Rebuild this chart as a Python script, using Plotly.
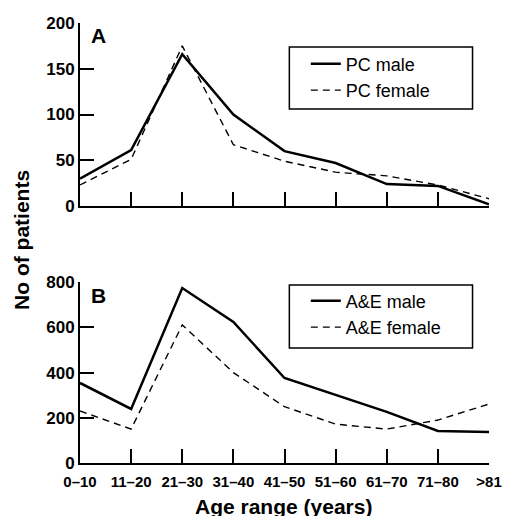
import plotly.graph_objects as go

categories = ["0\u201310", "11\u201320", "21\u201330", "31\u201340", "41\u201350",
              "51\u201360", "61\u201370", "71\u201380", ">81"]
pc_male = [30, 61, 166, 100, 60, 47, 24, 22, 2]
pc_female = [23, 51, 175, 67, 49, 37, 33, 23, 8]
ae_male = [354, 239, 774, 624, 376, 301, 226, 142, 137]
ae_female = [230, 150, 611, 400, 249, 172, 150, 190, 261]
pc_yticks = [0, 50, 100, 150, 200]
ae_yticks = [0, 200, 400, 600, 800]

FONT = "Liberation Sans, Arial, sans-serif"
xs = list(range(len(categories)))

fig = go.Figure()
fig.add_trace(go.Scatter(x=xs, y=pc_male, mode="lines", name="PC male",
                         line=dict(color="black", width=2.5), xaxis="x", yaxis="y", legend="legend"))
fig.add_trace(go.Scatter(x=xs, y=pc_female, mode="lines", name="PC female",
                         line=dict(color="black", width=1.4, dash="7px,5px"), xaxis="x", yaxis="y", legend="legend"))
fig.add_trace(go.Scatter(x=xs, y=ae_male, mode="lines", name="A&E male",
                         line=dict(color="black", width=2.5), xaxis="x2", yaxis="y2", legend="legend2"))
fig.add_trace(go.Scatter(x=xs, y=ae_female, mode="lines", name="A&E female",
                         line=dict(color="black", width=1.4, dash="7px,5px"), xaxis="x2", yaxis="y2", legend="legend2"))

axcommon = dict(showgrid=False, zeroline=False, showline=True, linecolor="black", linewidth=2,
                ticks="inside", ticklen=14, tickwidth=1.5, tickcolor="black")
yfont = dict(family=FONT, size=17, color="black", weight="bold")
xfont = dict(family=FONT, size=15, color="black", weight="bold")

# plot area in px: x 80..502, top panel y 23..206, bottom panel y 282..463
def px_x(p):
    return (p - 80) / 422

def px_y(p):
    return (463 - p) / 440

legend_common = dict(xanchor="left", yanchor="middle", borderwidth=0, bgcolor="rgba(0,0,0,0)",
                     font=dict(family=FONT, size=18, color="black"), tracegroupgap=0,
                     itemwidth=30)

fig.update_layout(
    width=514, height=516,
    margin=dict(l=80, r=12, t=23, b=53),
    paper_bgcolor="white", plot_bgcolor="white",
    xaxis=dict(domain=[0, 1], anchor="y", range=[0, 8], tickvals=xs, showticklabels=False, **axcommon),
    yaxis=dict(domain=[0.584, 1], anchor="x", range=[0, 200], tickvals=pc_yticks, tickfont=yfont, **axcommon),
    xaxis2=dict(domain=[0, 1], anchor="y2", range=[0, 8], tickvals=xs, ticktext=categories,
                tickfont=xfont, ticklabeloverflow="allow", ticklabelstandoff=4, **axcommon),
    yaxis2=dict(domain=[0, 0.411], anchor="x2", range=[0, 800], tickvals=ae_yticks, tickfont=yfont, **axcommon),
    legend=dict(x=px_x(313), y=px_y(77), **legend_common),
    legend2=dict(x=px_x(313), y=px_y(314), **legend_common),
    showlegend=True,
    shapes=[
        dict(type="rect", xref="paper", yref="paper", x0=px_x(296), x1=px_x(485), y0=px_y(47), y1=px_y(109),
             line=dict(color="black", width=1.5), fillcolor="rgba(0,0,0,0)"),
        dict(type="rect", xref="paper", yref="paper", x0=px_x(296), x1=px_x(485), y0=px_y(285), y1=px_y(348),
             line=dict(color="black", width=1.5), fillcolor="rgba(0,0,0,0)"),
    ],
    annotations=[
        dict(text="A", xref="paper", yref="paper", x=px_x(89), y=px_y(35.5), xanchor="left", yanchor="middle",
             showarrow=False, font=dict(family=FONT, size=21, color="black", weight="bold")),
        dict(text="B", xref="paper", yref="paper", x=px_x(89), y=px_y(295), xanchor="left", yanchor="middle",
             showarrow=False, font=dict(family=FONT, size=21, color="black", weight="bold")),
        dict(text="No of patients", xref="paper", yref="paper", x=px_x(19), y=px_y(240), xanchor="center",
             yanchor="middle", textangle=-90, showarrow=False,
             font=dict(family=FONT, size=21, color="black", weight="bold")),
        dict(text="Age range (years)", xref="paper", yref="paper", x=px_x(290), y=px_y(506), xanchor="center",
             yanchor="middle", showarrow=False,
             font=dict(family=FONT, size=21, color="black", weight="bold")),
    ],
)

fig.write_html("out.html", config=dict(displayModeBar=False),
               post_script="document.body.style.margin='0';document.body.style.overflow='hidden';")
